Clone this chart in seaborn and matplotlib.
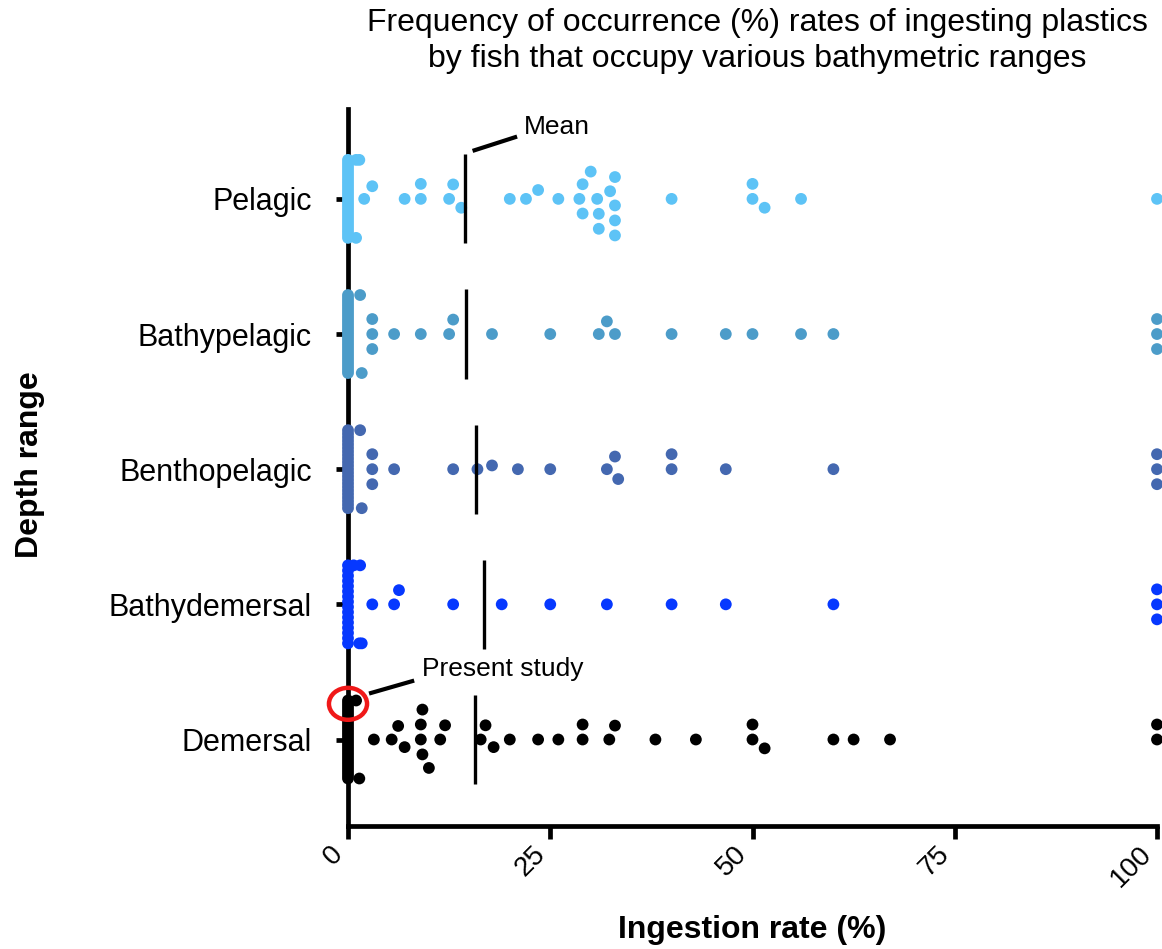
import numpy as np
import pandas as pd
import seaborn as sns
import matplotlib
matplotlib.use("Agg")
import matplotlib.pyplot as plt
from matplotlib.patches import Ellipse

# ---------------- data ----------------
categories = ["Pelagic", "Bathypelagic", "Benthopelagic", "Bathydemersal", "Demersal"]
colors = ["#5DC3F6", "#4C9CC9", "#4468B0", "#0638FF", "#000000"]

pelagic_zero_count = 28
pelagic_nonzero = [1, 1, 1.4, 2, 3, 7, 9, 9, 12.5, 13, 14, 20, 22, 23.5, 26, 28.6, 29, 29,
                   30, 30.8, 31, 31, 32.4, 33, 33, 33, 33, 40, 50, 50, 51.5, 56, 100]

bathypelagic_zero_count = 29
bathypelagic_nonzero = [1.5, 1.7, 3, 3, 3, 5.7, 9, 12.5, 13, 17.8, 25, 31, 32, 33, 40,
                        46.7, 50, 56, 60, 100, 100, 100]

benthopelagic_zero_count = 23
benthopelagic_nonzero = [1.5, 1.7, 3, 3, 3, 5.7, 13, 16, 17.8, 21, 25, 32, 33, 33.4, 40, 40,
                         46.7, 60, 100, 100, 100]

bathydemersal_zero_count = 16
bathydemersal_nonzero = [0.7, 1.4, 1.5, 1.7, 3, 5.7, 6.3, 13, 19, 25, 32, 40, 46.7, 60,
                         100, 100, 100]

demersal_zero_count = 28
demersal_nonzero = [1, 1.4, 3.2, 5.4, 6.2, 7, 9, 9, 9.2, 9.2, 10, 11.4, 12, 16.4, 17, 18, 20,
                    23.5, 26, 29, 29, 32.3, 33, 38, 43, 50, 50, 51.5, 60, 62.5, 67, 100, 100]

xticks = [0, 25, 50, 75, 100]

zero_counts = [pelagic_zero_count, bathypelagic_zero_count, benthopelagic_zero_count,
               bathydemersal_zero_count, demersal_zero_count]
nonzeros = [pelagic_nonzero, bathypelagic_nonzero, benthopelagic_nonzero,
            bathydemersal_nonzero, demersal_nonzero]

# ---------------- layout helpers ----------------
FIG_W, FIG_H = 1162, 949
AX_L, AX_R, AX_T, AX_B = 348, 1157, 109, 826
YLIM = (4.64, -0.665)
PX_X = (1155 - 348) / 100.0
PX_Y = (AX_B - AX_T) / (YLIM[0] - YLIM[1])
D = 15.0        # collision distance in px
HALF = 39.0     # max half-width of a swarm in px


def swarm_offsets(values):
    vals = np.asarray(values, float)
    offs = np.zeros(len(vals))
    placed_x, placed_y = [], []
    zero_idx = np.where(vals == 0)[0]
    n0 = len(zero_idx)
    if n0 > 1:
        step = min(D, 2 * HALF / (n0 - 1))
        ys = (np.arange(n0) - (n0 - 1) / 2) * step
        offs[zero_idx] = ys
        placed_x += [0.0] * n0
        placed_y += list(ys)
    rest = [i for i in np.argsort(vals, kind="stable") if vals[i] != 0]
    for i in rest:
        x = vals[i] * PX_X
        px = np.array(placed_x)
        py = np.array(placed_y)
        near = np.abs(px - x) < D
        nx, ny = px[near], py[near]
        cands = [0.0]
        for xx, yy in zip(nx, ny):
            h = np.sqrt(max(D ** 2 - (xx - x) ** 2, 0.0))
            cands += [yy + h, yy - h]
        cands = sorted(cands, key=lambda c: (abs(c), c))
        chosen = cands[-1]
        for c in cands:
            if np.all((nx - x) ** 2 + (ny - c) ** 2 >= D ** 2 - 1e-6):
                chosen = c
                break
        chosen = float(np.clip(chosen, -HALF, HALF))
        offs[i] = chosen
        placed_x.append(x)
        placed_y.append(chosen)
    return offs


rows = []
means = []
for k, (cat, nz, vals_nz) in enumerate(zip(categories, zero_counts, nonzeros)):
    vals = [0.0] * nz + list(vals_nz)
    offs = swarm_offsets(vals)
    means.append(np.mean(vals))
    for v, o in zip(vals, offs):
        rows.append({"category": cat, "value": v, "pos": k + o / PX_Y})
df = pd.DataFrame(rows)

# ---------------- plotting ----------------
sns.set_style("ticks")
plt.rcParams["font.family"] = ["Liberation Sans", "DejaVu Sans"]
plt.rcParams.update({"text.color": "black", "axes.labelcolor": "black",
                     "xtick.color": "black", "ytick.color": "black",
                     "axes.edgecolor": "black"})

fig = plt.figure(figsize=(FIG_W / 100, FIG_H / 100), dpi=100)
ax = fig.add_axes([AX_L / FIG_W, 1 - AX_B / FIG_H, (AX_R - AX_L) / FIG_W, (AX_B - AX_T) / FIG_H])

sns.scatterplot(data=df, x="value", y="pos", hue="category",
                palette=dict(zip(categories, colors)), s=72, edgecolor="none",
                linewidth=0, legend=False, clip_on=False, zorder=3, ax=ax)

for k, m in enumerate(means):
    ax.plot([m, m], [k - 0.33, k + 0.33], color="black", lw=2.4, zorder=4,
            solid_capstyle="butt")

ax.set_xlim(0, 100)
ax.set_ylim(*YLIM)
ax.set_xticks(xticks)
ax.set_xticklabels([str(t) for t in xticks], rotation=45, ha="right", va="bottom",
                   rotation_mode="anchor", fontsize=20)
ax.set_yticks(range(len(categories)))
ax.set_yticklabels(categories, fontsize=22)
ax.set_xlabel("")
ax.set_ylabel("")
for s in ["top", "right"]:
    ax.spines[s].set_visible(False)
for s in ["left", "bottom"]:
    ax.spines[s].set_linewidth(3.4)
    ax.spines[s].set_color("black")
ax.tick_params(axis="both", width=3.4, length=9, color="black")
ax.tick_params(axis="y", pad=17)
ax.tick_params(axis="x", pad=15)

# annotations
ax.plot([15.4, 20.9], [-0.355, -0.461], color="black", lw=3, clip_on=False,
        solid_capstyle="butt")
ax.text(21.8, -0.532, "Mean", fontsize=19, va="center", ha="left")

ax.add_patch(Ellipse((0, 3.736), width=4.71, height=0.2366, fill=False,
                     edgecolor="#F01818", lw=3.2, clip_on=False, zorder=5))
ax.plot([2.6, 8.18], [3.66, 3.564], color="black", lw=3, clip_on=False,
        solid_capstyle="butt")
ax.text(9.1, 3.482, "Present study", fontsize=19, va="center", ha="left")

fig.text(757 / FIG_W, 1 - 41 / FIG_H,
         "Frequency of occurrence (%) rates of ingesting plastics\n"
         "by fish that occupy various bathymetric ranges",
         ha="center", va="center", fontsize=23, linespacing=1.25)
fig.text(752 / FIG_W, 1 - 930 / FIG_H, "Ingestion rate (%)", ha="center", va="center",
         fontsize=23, fontweight="bold")
fig.text(30 / FIG_W, 1 - 465 / FIG_H, "Depth range", ha="center", va="center",
         fontsize=23, fontweight="bold", rotation=90)

fig.savefig("out.png", dpi=100)
